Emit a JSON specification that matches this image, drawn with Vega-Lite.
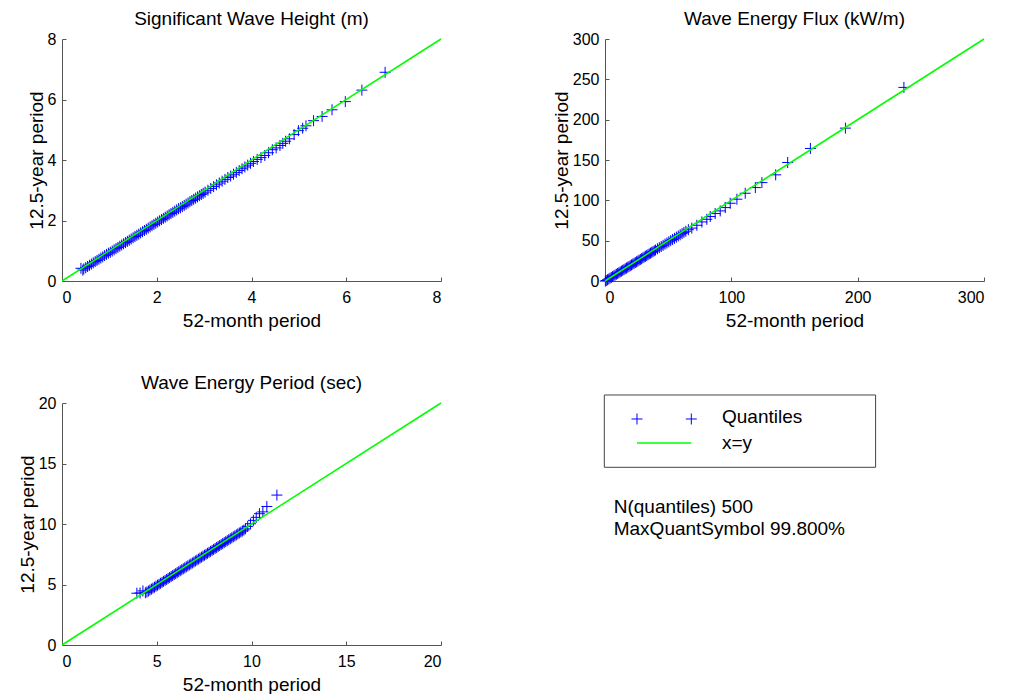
{
  "$schema": "https://vega.github.io/schema/vega-lite/v6.json",
  "autosize": {"type": "pad"},
  "padding": {"left": 18, "top": 10, "right": 5, "bottom": 0},
  "background": "white",
  "config": {
    "font": "Liberation Sans",
    "view": {"stroke": null},
    "axis": {"grid": false, "domainColor": "#555555", "tickColor": "#555555", "tickSize": -4, "labelFontSize": 16, "labelColor": "#000000", "titleFontSize": 19, "titleFontWeight": "normal", "titleColor": "#000000", "labelFont": "Liberation Sans", "titleFont": "Liberation Sans", "domainWidth": 1, "tickWidth": 1},
    "axisX": {"labelPadding": 12, "titlePadding": 6},
    "axisY": {"labelPadding": 10, "titlePadding": 1},
    "title": {"fontSize": 19, "fontWeight": "normal", "color": "#000000", "frame": "group", "offset": 2, "font": "Liberation Sans"}
  },
  "columns": 2,
  "spacing": {"row": 122, "column": 164},
  "bounds": "flush",
  "concat": [
    {
      "width": 379, "height": 242,
      "title": "Significant Wave Height (m)",
      "layer": [
        {
          "data": {"values": [
            {"x":0.40,"y":0.42},{"x":0.44,"y":0.36},{"x":0.46,"y":0.40},{"x":0.50,"y":0.44},{"x":0.54,"y":0.48},{"x":0.58,"y":0.52},{"x":0.62,"y":0.56},{"x":0.66,"y":0.60},{"x":0.70,"y":0.64},{"x":0.74,"y":0.68},{"x":0.78,"y":0.72},{"x":0.82,"y":0.76},{"x":0.86,"y":0.80},{"x":0.90,"y":0.84},{"x":0.94,"y":0.88},{"x":0.98,"y":0.92},{"x":1.02,"y":0.95},{"x":1.06,"y":0.99},{"x":1.10,"y":1.03},{"x":1.14,"y":1.07},{"x":1.18,"y":1.11},{"x":1.22,"y":1.15},{"x":1.26,"y":1.19},{"x":1.30,"y":1.23},{"x":1.34,"y":1.27},{"x":1.38,"y":1.31},{"x":1.42,"y":1.35},{"x":1.46,"y":1.39},{"x":1.50,"y":1.43},{"x":1.54,"y":1.47},{"x":1.58,"y":1.51},{"x":1.62,"y":1.55},{"x":1.66,"y":1.59},{"x":1.70,"y":1.63},{"x":1.74,"y":1.67},{"x":1.78,"y":1.71},{"x":1.82,"y":1.75},{"x":1.86,"y":1.79},{"x":1.90,"y":1.83},{"x":1.94,"y":1.87},{"x":1.98,"y":1.91},{"x":2.02,"y":1.95},{"x":2.06,"y":1.99},{"x":2.10,"y":2.03},{"x":2.14,"y":2.07},{"x":2.18,"y":2.11},{"x":2.22,"y":2.15},{"x":2.26,"y":2.19},{"x":2.30,"y":2.23},{"x":2.34,"y":2.27},{"x":2.38,"y":2.31},{"x":2.42,"y":2.35},{"x":2.46,"y":2.39},{"x":2.50,"y":2.42},{"x":2.54,"y":2.46},{"x":2.58,"y":2.50},{"x":2.62,"y":2.54},{"x":2.66,"y":2.58},{"x":2.70,"y":2.62},{"x":2.74,"y":2.66},{"x":2.78,"y":2.70},{"x":2.82,"y":2.74},{"x":2.86,"y":2.78},{"x":2.90,"y":2.82},{"x":2.94,"y":2.86},{"x":2.98,"y":2.90},{"x":3.02,"y":2.94},{"x":3.08,"y":3.00},{"x":3.14,"y":3.06},{"x":3.20,"y":3.12},{"x":3.26,"y":3.18},{"x":3.32,"y":3.24},{"x":3.38,"y":3.30},{"x":3.44,"y":3.36},{"x":3.50,"y":3.42},{"x":3.56,"y":3.47},{"x":3.62,"y":3.53},{"x":3.68,"y":3.59},{"x":3.74,"y":3.65},{"x":3.80,"y":3.71},{"x":3.86,"y":3.77},{"x":3.92,"y":3.83},{"x":3.98,"y":3.89},{"x":4.04,"y":3.95},{"x":4.12,"y":4.02},{"x":4.20,"y":4.08},{"x":4.28,"y":4.15},{"x":4.36,"y":4.24},{"x":4.44,"y":4.34},{"x":4.52,"y":4.40},{"x":4.60,"y":4.48},{"x":4.66,"y":4.55},{"x":4.72,"y":4.62},{"x":4.80,"y":4.70},{"x":4.90,"y":4.84},{"x":4.99,"y":4.97},{"x":5.08,"y":5.05},{"x":5.15,"y":5.13},{"x":5.31,"y":5.30},{"x":5.49,"y":5.44},{"x":5.70,"y":5.66},{"x":5.98,"y":5.93},{"x":6.33,"y":6.31},{"x":6.82,"y":6.90}
          ]},
          "mark": {"type": "point", "shape": "M-1,0L1,0M0,-1L0,1", "size": 121, "filled": false, "color": "#0000ff", "strokeWidth": 1, "opacity": 1},
          "encoding": {
            "x": {"field": "x", "type": "quantitative", "scale": {"domain": [0, 8], "nice": false}, "axis": {"values": [0, 2, 4, 6, 8], "title": "52-month period"}},
            "y": {"field": "y", "type": "quantitative", "scale": {"domain": [0, 8], "nice": false}, "axis": {"values": [0, 2, 4, 6, 8], "title": "12.5-year period"}}
          }
        },
        {
          "data": {"values": [{"x": 0, "y": 0, "x2": 8, "y2": 8}]},
          "mark": {"type": "rule", "color": "#00ff00", "strokeWidth": 1.5},
          "encoding": {"x": {"field": "x", "type": "quantitative"}, "y": {"field": "y", "type": "quantitative"}, "x2": {"field": "x2"}, "y2": {"field": "y2"}}
        }
      ]
    },
    {
      "width": 379, "height": 242,
      "title": "Wave Energy Flux (kW/m)",
      "layer": [
        {
          "data": {"values": [
            {"x":0.3,"y":-0.1},{"x":1,"y":0.57},{"x":2,"y":1.54},{"x":3,"y":2.51},{"x":4,"y":3.48},{"x":5,"y":4.45},{"x":6,"y":5.42},{"x":7,"y":6.39},{"x":8,"y":7.36},{"x":9,"y":8.33},{"x":10,"y":9.3},{"x":11,"y":10.27},{"x":12,"y":11.24},{"x":13,"y":12.21},{"x":14,"y":13.18},{"x":15,"y":14.15},{"x":16,"y":15.12},{"x":17,"y":16.09},{"x":18,"y":17.06},{"x":19,"y":18.03},{"x":20,"y":19.0},{"x":21,"y":19.97},{"x":22,"y":20.94},{"x":23,"y":21.91},{"x":24,"y":22.88},{"x":25,"y":23.85},{"x":26,"y":24.82},{"x":27,"y":25.79},{"x":28,"y":26.76},{"x":29,"y":27.73},{"x":30,"y":28.7},{"x":31,"y":29.67},{"x":32,"y":30.64},{"x":33,"y":31.61},{"x":34,"y":32.58},{"x":35,"y":33.55},{"x":36,"y":34.52},{"x":37,"y":35.49},{"x":38,"y":36.46},{"x":39,"y":37.43},{"x":40,"y":38.4},{"x":41.5,"y":39.86},{"x":43,"y":41.31},{"x":44.5,"y":42.77},{"x":46,"y":44.22},{"x":47.5,"y":45.68},{"x":49,"y":47.13},{"x":50.5,"y":48.59},{"x":52,"y":50.04},{"x":53.5,"y":51.5},{"x":55,"y":52.95},{"x":56.5,"y":54.41},{"x":58,"y":55.86},{"x":59.5,"y":57.32},{"x":61,"y":58.77},{"x":62.5,"y":60.23},{"x":64,"y":61.68},{"x":66,"y":63.6},{"x":68.7,"y":65.6},{"x":72.7,"y":69.1},{"x":76.7,"y":73.2},{"x":80.6,"y":76.5},{"x":83.3,"y":79.9},{"x":87.2,"y":83.6},{"x":91.2,"y":86.9},{"x":95.2,"y":91},{"x":99.1,"y":96.4},{"x":104.4,"y":101.4},{"x":111,"y":108.8},{"x":119,"y":115.8},{"x":124.2,"y":122},{"x":135.1,"y":131.6},{"x":144.6,"y":146.9},{"x":162.6,"y":164.3},{"x":190.3,"y":189.5},{"x":236.6,"y":240}
          ]},
          "mark": {"type": "point", "shape": "M-1,0L1,0M0,-1L0,1", "size": 121, "filled": false, "color": "#0000ff", "strokeWidth": 1, "opacity": 1},
          "encoding": {
            "x": {"field": "x", "type": "quantitative", "scale": {"domain": [0, 300], "nice": false}, "axis": {"values": [0, 100, 200, 300], "title": "52-month period"}},
            "y": {"field": "y", "type": "quantitative", "scale": {"domain": [0, 300], "nice": false}, "axis": {"values": [0, 50, 100, 150, 200, 250, 300], "title": "12.5-year period"}}
          }
        },
        {
          "data": {"values": [{"x": 0, "y": 0, "x2": 300, "y2": 300}]},
          "mark": {"type": "rule", "color": "#00ff00", "strokeWidth": 1.5},
          "encoding": {"x": {"field": "x", "type": "quantitative"}, "y": {"field": "y", "type": "quantitative"}, "x2": {"field": "x2"}, "y2": {"field": "y2"}}
        }
      ]
    },
    {
      "width": 379, "height": 242,
      "title": "Wave Energy Period (sec)",
      "layer": [
        {
          "data": {"values": [
            {"x":3.95,"y":4.28},{"x":4.12,"y":4.30},{"x":4.27,"y":4.47},{"x":4.40,"y":4.32},{"x":4.48,"y":4.38},{"x":4.56,"y":4.46},{"x":4.64,"y":4.54},{"x":4.72,"y":4.62},{"x":4.80,"y":4.70},{"x":4.88,"y":4.78},{"x":4.96,"y":4.86},{"x":5.04,"y":4.94},{"x":5.12,"y":5.02},{"x":5.20,"y":5.10},{"x":5.28,"y":5.18},{"x":5.36,"y":5.26},{"x":5.44,"y":5.34},{"x":5.52,"y":5.42},{"x":5.60,"y":5.50},{"x":5.68,"y":5.58},{"x":5.76,"y":5.66},{"x":5.84,"y":5.74},{"x":5.92,"y":5.82},{"x":6.00,"y":5.90},{"x":6.08,"y":5.98},{"x":6.16,"y":6.06},{"x":6.24,"y":6.14},{"x":6.32,"y":6.22},{"x":6.40,"y":6.30},{"x":6.48,"y":6.38},{"x":6.56,"y":6.46},{"x":6.64,"y":6.54},{"x":6.72,"y":6.62},{"x":6.80,"y":6.70},{"x":6.88,"y":6.78},{"x":6.96,"y":6.86},{"x":7.04,"y":6.94},{"x":7.12,"y":7.02},{"x":7.20,"y":7.10},{"x":7.28,"y":7.18},{"x":7.36,"y":7.26},{"x":7.44,"y":7.34},{"x":7.52,"y":7.42},{"x":7.60,"y":7.50},{"x":7.68,"y":7.58},{"x":7.76,"y":7.66},{"x":7.84,"y":7.74},{"x":7.92,"y":7.82},{"x":8.00,"y":7.90},{"x":8.08,"y":7.98},{"x":8.16,"y":8.06},{"x":8.24,"y":8.14},{"x":8.32,"y":8.22},{"x":8.40,"y":8.30},{"x":8.48,"y":8.38},{"x":8.56,"y":8.46},{"x":8.64,"y":8.54},{"x":8.72,"y":8.62},{"x":8.80,"y":8.70},{"x":8.88,"y":8.78},{"x":8.96,"y":8.86},{"x":9.04,"y":8.94},{"x":9.12,"y":9.02},{"x":9.20,"y":9.10},{"x":9.28,"y":9.18},{"x":9.36,"y":9.26},{"x":9.44,"y":9.34},{"x":9.52,"y":9.42},{"x":9.60,"y":9.50},{"x":9.68,"y":9.60},{"x":9.80,"y":9.80},{"x":9.95,"y":10.02},{"x":10.1,"y":10.3},{"x":10.25,"y":10.55},{"x":10.42,"y":10.85},{"x":10.6,"y":11.0},{"x":10.81,"y":11.45},{"x":11.34,"y":12.39}
          ]},
          "mark": {"type": "point", "shape": "M-1,0L1,0M0,-1L0,1", "size": 121, "filled": false, "color": "#0000ff", "strokeWidth": 1, "opacity": 1},
          "encoding": {
            "x": {"field": "x", "type": "quantitative", "scale": {"domain": [0, 20], "nice": false}, "axis": {"values": [0, 5, 10, 15, 20], "title": "52-month period"}},
            "y": {"field": "y", "type": "quantitative", "scale": {"domain": [0, 20], "nice": false}, "axis": {"values": [0, 5, 10, 15, 20], "title": "12.5-year period"}}
          }
        },
        {
          "data": {"values": [{"x": 0, "y": 0, "x2": 20, "y2": 20}]},
          "mark": {"type": "rule", "color": "#00ff00", "strokeWidth": 1.5},
          "encoding": {"x": {"field": "x", "type": "quantitative"}, "y": {"field": "y", "type": "quantitative"}, "x2": {"field": "x2"}, "y2": {"field": "y2"}}
        }
      ]
    },
    {
      "width": 379, "height": 242,
      "layer": [
        {
          "data": {"values": [{"item": "box"}]},
          "mark": {"type": "rect", "fill": "white", "stroke": "#444444", "strokeWidth": 1},
          "encoding": {
            "x": {"datum": -0.18, "type": "quantitative", "scale": {"domain": [0, 100], "nice": false, "zero": false}, "axis": null},
            "x2": {"datum": 71.4},
            "y": {"datum": -3.31, "type": "quantitative", "scale": {"domain": [0, 100], "nice": false, "zero": false, "reverse": true}, "axis": null},
            "y2": {"datum": 26.57}
          }
        },
        {
          "data": {"values": [{"item": "Quantiles"}]},
          "mark": {"type": "point", "shape": "M-1,0L1,0M0,-1L0,1", "size": 121, "filled": false, "color": "#0000ff", "strokeWidth": 1, "opacity": 1},
          "encoding": {"x": {"datum": 8.44, "type": "quantitative"}, "y": {"datum": 6.61, "type": "quantitative"}}
        },
        {
          "data": {"values": [{"item": "Quantiles"}]},
          "mark": {"type": "point", "shape": "M-1,0L1,0M0,-1L0,1", "size": 121, "filled": false, "color": "#0000ff", "strokeWidth": 1, "opacity": 1},
          "encoding": {"x": {"datum": 22.77, "type": "quantitative"}, "y": {"datum": 6.61, "type": "quantitative"}}
        },
        {
          "data": {"values": [{"item": "x=y"}]},
          "mark": {"type": "rule", "color": "#00ff00", "strokeWidth": 1.5},
          "encoding": {"x": {"datum": 8.44, "type": "quantitative"}, "x2": {"datum": 22.77}, "y": {"datum": 16.53, "type": "quantitative"}}
        },
        {
          "data": {"values": [{"label": "Quantiles"}]},
          "mark": {"type": "text", "align": "left", "baseline": "middle", "fontSize": 19, "font": "Liberation Sans", "color": "#000000"},
          "encoding": {"x": {"datum": 30.87, "type": "quantitative"}, "y": {"datum": 5.9, "type": "quantitative"}, "text": {"field": "label"}}
        },
        {
          "data": {"values": [{"label": "x=y"}]},
          "mark": {"type": "text", "align": "left", "baseline": "middle", "fontSize": 19, "font": "Liberation Sans", "color": "#000000"},
          "encoding": {"x": {"datum": 30.87, "type": "quantitative"}, "y": {"datum": 16.65, "type": "quantitative"}, "text": {"field": "label"}}
        },
        {
          "data": {"values": [{"label": "N(quantiles) 500"}]},
          "mark": {"type": "text", "align": "left", "baseline": "middle", "fontSize": 19, "font": "Liberation Sans", "color": "#000000"},
          "encoding": {"x": {"datum": 2.3, "type": "quantitative"}, "y": {"datum": 43.1, "type": "quantitative"}, "text": {"field": "label"}}
        },
        {
          "data": {"values": [{"label": "MaxQuantSymbol 99.800%"}]},
          "mark": {"type": "text", "align": "left", "baseline": "middle", "fontSize": 19, "font": "Liberation Sans", "color": "#000000"},
          "encoding": {"x": {"datum": 2.3, "type": "quantitative"}, "y": {"datum": 52.07, "type": "quantitative"}, "text": {"field": "label"}}
        }
      ]
    }
  ]
}
